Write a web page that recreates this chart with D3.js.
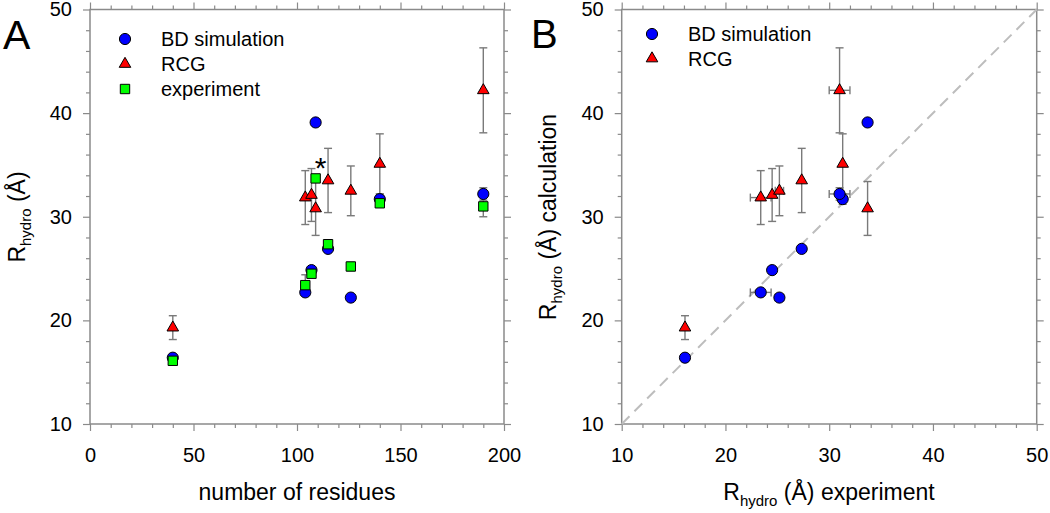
<!DOCTYPE html>
<html>
<head>
<meta charset="utf-8">
<script src="https://cdn.jsdelivr.net/npm/d3@7"></script>
<style>
  body { margin: 0; background: #fff; }
  text { font-family: "Liberation Sans", Arial, sans-serif; fill: #000; }
</style>
</head>
<body>
<div id="chart-area"></div>
<script>

// data
var residues   = [40, 104, 107, 109, 115, 126, 140, 190];
var experiment = [16.1, 23.4, 24.5, 33.7, 27.35, 25.2, 31.3, 31.0];
var expErr     = [0, 1.0, 0, 0, 0, 0.4, 0, 1.0];
var bdSim      = [16.4, 22.7, 24.85, 39.1, 26.9, 22.2, 31.7, 32.2];
var bdErr      = [0, 0, 0, 0, 0, 0, 0.5, 0.6];
var rcg        = [19.3, 31.85, 32.1, 30.8, 33.5, 32.5, 35.1, 42.2];
var rcgErr     = [1.15, 2.6, 2.55, 2.6, 3.1, 2.4, 2.9, 4.1];
var starIndex  = 3;   // residue 109 is marked with *

var legendA = ["BD simulation", "RCG", "experiment"];
var legendB = ["BD simulation", "RCG"];

var width = 1050,
    height = 513;

var axisColor = "#8a8a8a",
    errColor = "#7a7a7a";

var svg = d3.select("#chart-area").append("svg")
    .attr("width", width)
    .attr("height", height);

var rows = residues.map(function(r, i) {
  return { res: r, exp: experiment[i], expErr: expErr[i], bd: bdSim[i], bdErr: bdErr[i],
           rcg: rcg[i], rcgErr: rcgErr[i] };
});

var symCircle = d3.symbol().type(d3.symbolCircle).size(98)(),
    symTri = d3.symbol().type(d3.symbolTriangle).size(58)(),
    symSquare = d3.symbol().type(d3.symbolSquare).size(88)();

var markers = {
  "BD simulation": { path: symCircle, fill: "#0000ff" },
  "RCG": { path: symTri, fill: "#ff0000" },
  "experiment": { path: symSquare, fill: "#00ff00" }
};

// scales
var xA = d3.scaleLinear().domain([0, 200]).range([90, 504]);
var yA = d3.scaleLinear().domain([10, 50]).range([424, 9.5]);
var xB = d3.scaleLinear().domain([10, 50]).range([621.7, 1036.7]);
var yB = d3.scaleLinear().domain([10, 50]).range([424, 9.5]);

function frame(g, x, y, xMajor, xMinor, yMajor, yMinor) {
  var x0 = x.range()[0], x1 = x.range()[1],
      y0 = y.range()[0], y1 = y.range()[1];

  var axes = [
    { ax: d3.axisBottom(x), t: "translate(0," + y0 + ")", vals: [xMajor, xMinor], lab: true, pad: 17 },
    { ax: d3.axisTop(x), t: "translate(0," + y1 + ")", vals: [xMajor, xMinor], lab: false },
    { ax: d3.axisLeft(y), t: "translate(" + x0 + ",0)", vals: [yMajor, yMinor], lab: true, pad: 11 },
    { ax: d3.axisRight(y), t: "translate(" + x1 + ",0)", vals: [yMajor, yMinor], lab: false }
  ];

  axes.forEach(function(a) {
    // minor ticks
    var gm = g.append("g").attr("transform", a.t)
      .call(a.ax.tickValues(a.vals[1]).tickSize(4).tickFormat(""));
    gm.select(".domain").remove();
    gm.selectAll("line").attr("stroke", axisColor).attr("stroke-width", 1.2);

    // major ticks
    var gM = g.append("g").attr("transform", a.t)
      .call(a.ax.tickValues(a.vals[0]).tickSize(7).tickSizeOuter(0)
        .tickPadding(a.pad || 3)
        .tickFormat(a.lab ? d3.format("d") : ""));
    gM.select(".domain").remove();
    gM.selectAll("line").attr("stroke", axisColor).attr("stroke-width", 1.2);
    gM.selectAll("text")
      .style("font-size", "20px")
      .style("font-family", '"Liberation Sans", Arial, sans-serif')
      .attr("fill", "#000");
  });

  g.append("rect")
    .attr("x", x0).attr("y", y1)
    .attr("width", x1 - x0).attr("height", y0 - y1)
    .attr("fill", "none")
    .attr("stroke", axisColor)
    .attr("stroke-width", 1.5);
}

function vErr(g, data, xf, yf, ef) {
  var sel = g.selectAll(null).data(data.filter(function(d) { return ef(d) > 0; }))
    .enter().append("g").attr("stroke", errColor).attr("stroke-width", 1.4);
  sel.append("line")
    .attr("x1", xf).attr("x2", xf)
    .attr("y1", function(d) { return yf(d, -1); })
    .attr("y2", function(d) { return yf(d, 1); });
  [-1, 1].forEach(function(s) {
    sel.append("line")
      .attr("x1", function(d) { return xf(d) - 4; })
      .attr("x2", function(d) { return xf(d) + 4; })
      .attr("y1", function(d) { return yf(d, s); })
      .attr("y2", function(d) { return yf(d, s); });
  });
}

function hErr(g, data, xf, yf, ef) {
  var sel = g.selectAll(null).data(data.filter(function(d) { return ef(d) > 0; }))
    .enter().append("g").attr("stroke", errColor).attr("stroke-width", 1.4);
  sel.append("line")
    .attr("y1", yf).attr("y2", yf)
    .attr("x1", function(d) { return xf(d, -1); })
    .attr("x2", function(d) { return xf(d, 1); });
  [-1, 1].forEach(function(s) {
    sel.append("line")
      .attr("y1", function(d) { return yf(d) - 4; })
      .attr("y2", function(d) { return yf(d) + 4; })
      .attr("x1", function(d) { return xf(d, s); })
      .attr("x2", function(d) { return xf(d, s); });
  });
}

function points(g, data, name, xf, yf) {
  g.selectAll(null).data(data).enter()
    .append("path")
    .attr("d", markers[name].path)
    .attr("transform", function(d) { return "translate(" + xf(d) + "," + yf(d) + ")"; })
    .attr("fill", markers[name].fill)
    .attr("stroke", "#000")
    .attr("stroke-width", 1);
}

function legend(g, names, x, y, step) {
  names.forEach(function(n, i) {
    g.append("path")
      .attr("d", markers[n].path)
      .attr("transform", "translate(" + x + "," + (y + i * step) + ")")
      .attr("fill", markers[n].fill)
      .attr("stroke", "#000")
      .attr("stroke-width", 1);
    g.append("text")
      .attr("x", x + 36)
      .attr("y", y + i * step + 7)
      .style("font-size", "20px")
      .text(n);
  });
}

// R_hydro (Å) label with subscript
function rhydro(textSel, rest) {
  textSel.append("tspan").text("R");
  textSel.append("tspan").attr("dy", 6).style("font-size", "15px").text("hydro");
  textSel.append("tspan").attr("dy", -6).text(" (Å)" + rest);
}

// ---------------- panel A ----------------
var gA = svg.append("g");
frame(gA, xA, yA, d3.range(0, 201, 50), d3.range(10, 200, 10).filter(function(v) { return v % 50; }),
      d3.range(10, 51, 10), d3.range(12, 50, 2).filter(function(v) { return v % 10; }));

vErr(gA, rows, function(d) { return xA(d.res); },
     function(d, s) { return yA(d.rcg + s * d.rcgErr); }, function(d) { return d.rcgErr; });
vErr(gA, rows, function(d) { return xA(d.res); },
     function(d, s) { return yA(d.exp + s * d.expErr); }, function(d) { return d.expErr; });
vErr(gA, rows, function(d) { return xA(d.res); },
     function(d, s) { return yA(d.bd + s * d.bdErr); }, function(d) { return d.bdErr; });

points(gA, rows, "BD simulation", function(d) { return xA(d.res); }, function(d) { return yA(d.bd); });
points(gA, rows, "RCG", function(d) { return xA(d.res); }, function(d) { return yA(d.rcg); });
points(gA, rows, "experiment", function(d) { return xA(d.res); }, function(d) { return yA(d.exp); });

gA.append("text")
  .attr("x", xA(rows[starIndex].res) + 5)
  .attr("y", yA(rows[starIndex].exp))
  .attr("text-anchor", "middle")
  .style("font-size", "30px")
  .text("*");

legend(gA, legendA, 125, 39, 25);

gA.append("text")
  .attr("x", 297).attr("y", 500)
  .attr("text-anchor", "middle")
  .style("font-size", "23px")
  .text("number of residues");

var labA = gA.append("text")
  .attr("transform", "translate(25,217) rotate(-90)")
  .attr("text-anchor", "middle")
  .style("font-size", "23px");
rhydro(labA, "");

gA.append("text").attr("x", 3).attr("y", 49).style("font-size", "41px").text("A");

// ---------------- panel B ----------------
var gB = svg.append("g");
frame(gB, xB, yB, d3.range(10, 51, 10), d3.range(12, 50, 2).filter(function(v) { return v % 10; }),
      d3.range(10, 51, 10), d3.range(12, 50, 2).filter(function(v) { return v % 10; }));

// identity line
gB.append("line")
  .attr("x1", xB(10)).attr("y1", yB(10))
  .attr("x2", xB(50)).attr("y2", yB(50))
  .attr("stroke", "#bdbdbd")
  .attr("stroke-width", 2)
  .attr("stroke-dasharray", "11,7");

vErr(gB, rows, function(d) { return xB(d.exp); },
     function(d, s) { return yB(d.rcg + s * d.rcgErr); }, function(d) { return d.rcgErr; });
vErr(gB, rows, function(d) { return xB(d.exp); },
     function(d, s) { return yB(d.bd + s * d.bdErr); }, function(d) { return d.bdErr; });
hErr(gB, rows, function(d, s) { return xB(d.exp + s * d.expErr); },
     function(d) { return yB(d.rcg); }, function(d) { return d.expErr; });
hErr(gB, rows, function(d, s) { return xB(d.exp + s * d.expErr); },
     function(d) { return yB(d.bd); }, function(d) { return d.expErr; });

points(gB, rows, "BD simulation", function(d) { return xB(d.exp); }, function(d) { return yB(d.bd); });
points(gB, rows, "RCG", function(d) { return xB(d.exp); }, function(d) { return yB(d.rcg); });

legend(gB, legendB, 652, 34, 24.5);

var xlabB = gB.append("text")
  .attr("x", 829).attr("y", 500)
  .attr("text-anchor", "middle")
  .style("font-size", "23px");
rhydro(xlabB, " experiment");

var ylabB = gB.append("text")
  .attr("transform", "translate(556,217) rotate(-90)")
  .attr("text-anchor", "middle")
  .style("font-size", "23px");
rhydro(ylabB, " calculation");

gB.append("text").attr("x", 531).attr("y", 48).style("font-size", "40px").text("B");

</script>
</body>
</html>
